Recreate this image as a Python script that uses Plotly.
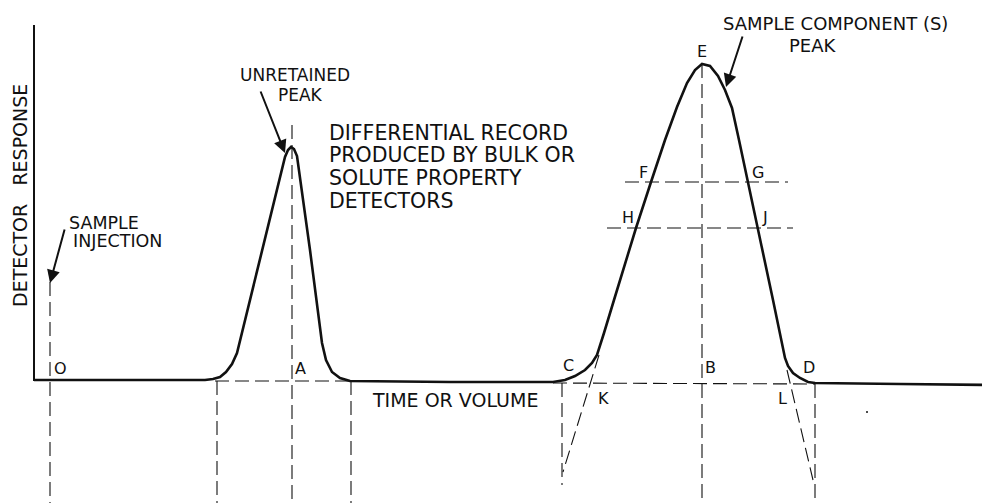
import plotly.graph_objects as go

# ---- data (x = time/volume position, y = detector response position, figure units) ----
axis_x = [34, 34]
axis_y = [25, 381]

signal_x = [34, 205, 213, 220, 226, 232, 237, 262, 285, 288, 291, 294, 297, 310, 322, 326, 332, 340, 350,
            450, 553, 565, 575, 585, 592, 597, 600, 604, 614, 636, 651, 665, 677, 687, 695, 702, 710, 718, 725,
            732, 739, 748, 758, 773, 785, 788, 793, 800, 808, 815, 900, 990]
signal_y = [380, 380, 379, 377, 372, 364, 353, 250, 157, 150, 147, 149, 156, 250, 343, 360, 372, 378, 381,
            382, 382, 380, 376, 370, 363, 355, 346, 333, 300, 228, 182, 140, 107, 83, 70, 64, 66, 76, 90,
            108, 140, 182, 228, 300, 358, 366, 373, 378, 382, 383, 384, 385]

# construction (dashed) segments: (x0, y0, x1, y1)
guides = [
    (50, 282, 50, 503),     # O
    (217, 381, 217, 503),
    (292, 125, 292, 503),   # A
    (351, 381, 351, 503),
    (215, 381, 351, 381),
    (562, 383, 562, 485),   # C
    (553, 383, 815, 384),
    (702, 64, 702, 503),    # E-B
    (815, 384, 815, 503),   # D
    (599, 355, 563, 472),   # K tangent
    (787, 370, 813, 480),   # L tangent
    (625, 182, 788, 182),   # F-G
    (607, 228, 793, 228),   # H-J
]

point_labels = ["O", "A", "C", "K", "B", "D", "L", "F", "G", "H", "J", "E"]
point_lx = [60, 300, 568, 603, 710, 809, 782, 643, 758, 628, 765, 702]
point_ly = [368, 368, 365, 398, 367, 367, 398, 172, 172, 217, 217, 51]

block_lines = ["DIFFERENTIAL RECORD", "PRODUCED BY BULK OR", "SOLUTE PROPERTY", "DETECTORS"]
block_y = [133, 155, 178, 201]

FONT = "DejaVu Sans"
INK = "#111111"

fig = go.Figure()

fig.add_trace(go.Scatter(x=axis_x, y=axis_y, mode="lines",
                         line=dict(color=INK, width=2), hoverinfo="skip"))

gx, gy = [], []
for x0, y0, x1, y1 in guides:
    gx += [x0, x1, None]
    gy += [y0, y1, None]
fig.add_trace(go.Scatter(x=gx, y=gy, mode="lines",
                         line=dict(color=INK, width=1.1, dash="14px,6px"), hoverinfo="skip"))

fig.add_trace(go.Scatter(x=signal_x, y=signal_y, mode="lines",
                         line=dict(color=INK, width=2.6), hoverinfo="skip"))

fig.add_trace(go.Scatter(x=[867], y=[412], mode="markers",
                         marker=dict(color=INK, size=2), hoverinfo="skip"))

ann = []
def txt(s, x, y, size, xanchor="center", **kw):
    ann.append(dict(text=s, x=x, y=y, xref="x", yref="y", showarrow=False,
                    xanchor=xanchor, yanchor="middle",
                    font=dict(family=FONT, size=size, color=INK), **kw))

for s, x, y in zip(point_labels, point_lx, point_ly):
    txt(s, x, y, 16)

for s, y in zip(block_lines, block_y):
    txt(s, 327, y, 20.5, xanchor="left")

txt("DETECTOR   RESPONSE", 20, 196, 19, textangle=-90)
txt("SAMPLE", 67, 223, 17.5, xanchor="left")
txt("INJECTION", 71, 241, 17.5, xanchor="left")
txt("UNRETAINED", 295, 75, 17)
txt("PEAK", 300, 95, 17)
txt("TIME OR VOLUME", 370, 400, 19, xanchor="left")
txt("SAMPLE COMPONENT (S)", 721, 23, 18, xanchor="left")
txt("PEAK", 787, 45, 18, xanchor="left")

arrows = [((65, 228), (50, 283)), ((260, 90), (285, 153)), ((743, 35), (726, 87))]
for (tx, ty), (hx, hy) in arrows:
    ann.append(dict(x=hx, y=hy, ax=tx, ay=ty, xref="x", yref="y", axref="x", ayref="y",
                    showarrow=True, arrowhead=2, arrowsize=1.3, arrowwidth=2,
                    arrowcolor=INK, text=""))

# the page body adds an 8px margin; shift the ranges so figure units match page pixels
fig.update_layout(
    width=990, height=503,
    margin=dict(l=0, r=0, t=0, b=0),
    paper_bgcolor="white", plot_bgcolor="white",
    showlegend=False,
    xaxis=dict(range=[8, 998], visible=False, fixedrange=True),
    yaxis=dict(range=[511, 8], visible=False, fixedrange=True),
    annotations=ann,
)

fig.write_html("out.html")
